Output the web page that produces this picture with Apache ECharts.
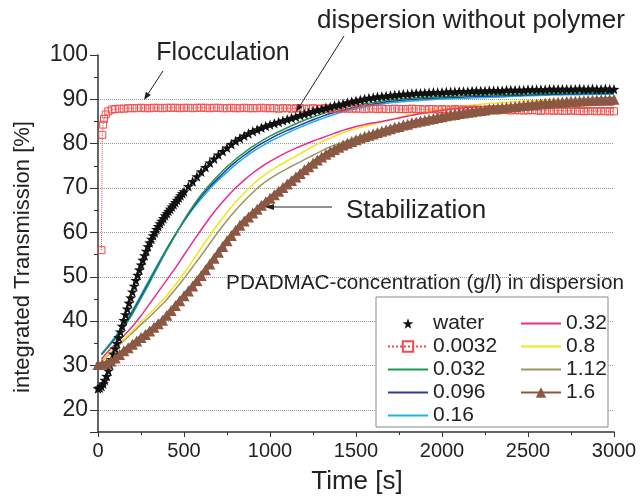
<!DOCTYPE html>
<html><head><meta charset="utf-8">
<script src="https://cdn.jsdelivr.net/npm/echarts@6/dist/echarts.min.js"></script>
<style>html,body{margin:0;padding:0;background:#fff}#c{width:640px;height:498px}</style>
</head><body><div id="c"></div><script>
// ---------- data ----------
const seriesNames = ['water', '0.0032', '0.032', '0.096', '0.16', '0.32', '0.8', '1.12', '1.6'];
const xTicks = [0, 500, 1000, 1500, 2000, 2500, 3000];
const yTicks = [20, 30, 40, 50, 60, 70, 80, 90, 100];

// time grid (s) for the marker series
const t25 = [0,25,50,75,100,125,150,175,200,225,250,275,300,325,350,375,400,425,450,475,
500,525,550,575,600,625,650,675,700,725,750,775,800,825,850,875,900,925,950,975,
1000,1025,1050,1075,1100,1125,1150,1175,1200,1225,1250,1275,1300,1325,1350,1375,1400,1425,1450,1475,
1500,1525,1550,1575,1600,1625,1650,1675,1700,1725,1750,1775,1800,1825,1850,1875,1900,1925,1950,1975,
2000,2025,2050,2075,2100,2125,2150,2175,2200,2225,2250,2275,2300,2325,2350,2375,2400,2425,2450,2475,
2500,2525,2550,2575,2600,2625,2650,2675,2700,2725,2750,2775,2800,2825,2850,2875,2900,2925,2950,2975,3000];
// denser early time grid (s) for the water stars
const tWaterEarly = [0,10,20,30,40,50,60,70,80,90,100,110,120,130,140,150,160,170,180,190,
200,210,220,230,240,250,260,270,280,290,300,310,320,330,340,350,360,370,380,390,
400,410,420,430,440,450,460,470,480,490,500];
// time grid (s) for the plain line series
const t50 = [20,50,100,150,200,250,300,350,400,450,500,550,600,650,700,750,800,850,900,950,
1000,1050,1100,1150,1200,1250,1300,1350,1400,1450,1500,1550,1600,1650,1700,1750,1800,1850,1900,1950,
2000,2050,2100,2150,2200,2250,2300,2350,2400,2450,2500,2550,2600,2650,2700,2750,2800,2850,2900,2950,3000];

// water: 0..500 s on tWaterEarly, then 525..3000 s on t25
const waterEarlyV = [24.8,25.0,25.3,25.9,26.7,27.6,28.8,30.1,31.4,32.6,33.8,35.0,36.3,37.6,38.9,40.2,41.5,42.8,44.1,45.3,
46.6,47.9,49.2,50.4,51.6,52.7,53.8,54.8,55.8,56.8,57.7,58.5,59.3,60.0,60.7,61.4,62.0,62.6,63.2,63.8,
64.3,64.8,65.3,65.8,66.3,66.8,67.3,67.8,68.3,68.8,69.2];
const waterV = [70.4,71.5,72.6,73.7,74.7,75.7,76.6,77.5,78.3,79.1,79.9,80.6,81.2,81.8,82.3,82.8,83.2,83.6,84.0,
84.3,84.6,84.9,85.2,85.5,85.8,86.1,86.4,86.7,87.0,87.3,87.6,87.8,88.1,88.3,88.6,88.8,89.0,89.3,89.5,
89.7,89.9,90.1,90.3,90.4,90.6,90.7,90.8,90.9,91.0,91.1,91.2,91.2,91.3,91.4,91.4,91.5,91.5,91.6,91.6,
91.6,91.7,91.7,91.7,91.8,91.8,91.8,91.9,91.9,91.9,91.9,92.0,92.0,92.0,92.0,92.1,92.1,92.1,92.1,92.1,
92.2,92.2,92.2,92.2,92.2,92.3,92.3,92.3,92.3,92.3,92.3,92.3,92.4,92.3,92.3,92.4,92.3,92.3,92.4,92.3,92.3];

// 0.0032: first points (jump), then values on t25 from 100 s on
const flocEarlyT = [20, 25, 30, 35, 45, 60, 80];
const flocEarlyV = [56.0, 82.0, 84.3, 85.6, 86.6, 87.3, 87.7];
const flocV = [87.8,87.9,87.9,88.0,88.0,88.0,88.1,88.0,88.0,88.1,88.1,88.0,88.1,88.1,88.1,88.0,
88.1,88.1,88.0,88.1,88.1,88.1,88.0,88.1,88.1,88.0,88.0,88.1,88.0,88.0,88.1,88.0,88.0,88.0,88.1,88.0,
88.0,88.0,87.9,88.0,88.0,87.9,88.0,88.0,87.9,87.9,88.0,87.9,87.9,88.0,87.9,87.9,87.9,88.0,87.9,87.9,
87.9,87.9,87.8,87.9,87.9,87.8,87.9,87.8,87.8,87.9,87.8,87.8,87.8,87.9,87.8,87.8,87.7,87.8,87.8,87.7,
87.8,87.7,87.7,87.8,87.7,87.7,87.6,87.7,87.7,87.6,87.6,87.7,87.6,87.5,87.6,87.6,87.5,87.6,87.5,87.5,
87.5,87.6,87.5,87.4,87.5,87.5,87.4,87.5,87.4,87.4,87.5,87.4,87.4,87.3,87.4,87.4,87.3,87.4,87.3,87.3,87.3];

const brownV = [30.2,30.3,30.5,31.0,31.7,32.5,33.3,34.0,34.8,35.5,36.3,37.0,37.8,38.6,39.4,40.2,41.3,42.4,43.5,44.6,
45.7,46.8,47.9,49.1,50.3,51.6,52.9,54.2,55.5,56.8,58.1,59.3,60.5,61.6,62.6,63.5,64.4,65.2,66.1,66.9,
67.7,68.5,69.3,70.1,70.9,71.7,72.5,73.3,74.1,74.8,75.6,76.3,77.0,77.6,78.2,78.7,79.2,79.7,80.1,80.5,
80.9,81.3,81.6,81.9,82.2,82.5,82.8,83.1,83.4,83.7,83.9,84.2,84.4,84.7,84.9,85.1,85.3,85.5,85.7,85.9,
86.1,86.3,86.5,86.6,86.8,86.9,87.1,87.2,87.4,87.5,87.6,87.8,87.9,88.0,88.1,88.2,88.3,88.4,88.5,88.6,
88.7,88.8,88.9,89.0,89.1,89.2,89.3,89.35,89.4,89.5,89.55,89.6,89.65,89.7,89.75,89.8,89.85,89.9,89.9,89.95,90.0];

const greenV = [32.4,33.7,36.0,38.6,41.6,45.1,48.7,52.4,56.0,59.4,62.8,65.8,68.5,70.8,72.9,74.8,76.5,78.0,79.4,80.6,
81.7,82.7,83.6,84.5,85.3,86.0,86.7,87.3,87.8,88.3,88.7,89.0,89.3,89.6,89.9,90.05,90.2,90.35,90.45,90.55,
90.6,90.7,90.75,90.85,90.9,90.95,91.0,91.05,91.1,91.15,91.2,91.25,91.3,91.35,91.4,91.4,91.45,91.5,91.5,91.55,91.6];
const navyV = [32.5,33.8,36.2,38.9,42.0,45.5,49.1,52.7,56.2,59.5,62.6,65.5,68.1,70.3,72.3,74.2,75.9,77.4,78.8,80.0,
81.1,82.1,83.0,83.8,84.6,85.4,86.1,86.8,87.3,87.8,88.3,88.65,88.95,89.25,89.55,89.75,89.9,90.05,90.15,90.25,
90.35,90.45,90.5,90.6,90.65,90.7,90.75,90.8,90.85,90.95,91.0,91.05,91.1,91.15,91.2,91.2,91.25,91.3,91.3,91.35,91.4];
const cyanV = [32.6,34.0,36.5,39.3,42.4,45.9,49.5,53.0,56.4,59.6,62.5,65.2,67.6,69.8,71.8,73.6,75.3,76.8,78.2,79.4,
80.5,81.5,82.4,83.3,84.1,84.9,85.6,86.3,86.9,87.5,87.9,88.3,88.6,88.95,89.25,89.4,89.55,89.7,89.85,89.95,
90.05,90.15,90.2,90.25,90.35,90.4,90.45,90.55,90.65,90.7,90.8,90.85,90.9,91.0,91.0,91.05,91.05,91.1,91.15,91.15,91.2];
const pinkV = [31.4,32.8,34.8,36.7,38.8,41.2,43.9,46.6,49.3,52.0,54.9,57.8,60.6,63.3,65.8,68.0,70.0,71.8,73.4,74.8,
76.0,77.1,78.1,79.0,79.8,80.6,81.3,82.0,82.7,83.3,83.9,84.3,84.7,85.0,85.4,85.8,86.2,86.6,86.9,87.2,
87.5,87.8,88.0,88.15,88.3,88.4,88.5,88.55,88.6,88.6,88.65,88.65,88.7,88.7,88.7,88.7,88.7,88.7,88.7,88.75,88.75];
const yellowV = [31.0,32.2,34.0,35.9,37.8,39.8,41.7,43.7,45.8,48.2,50.8,53.6,56.5,59.3,62.0,64.5,66.8,68.9,70.8,72.4,
73.8,75.0,76.1,77.2,78.3,79.4,80.4,81.3,82.1,82.8,83.4,83.9,84.4,84.9,85.4,85.9,86.4,86.8,87.2,87.5,
87.8,88.1,88.35,88.6,88.8,89.0,89.15,89.3,89.4,89.5,89.6,89.7,89.75,89.8,89.85,89.9,89.95,90.0,90.0,90.05,90.1];
const oliveV = [30.9,32.0,33.8,35.6,37.4,39.2,41.0,42.9,44.9,47.2,49.6,52.2,54.8,57.5,60.2,62.7,65.0,67.1,69.0,70.7,
72.1,73.3,74.4,75.4,76.4,77.4,78.4,79.3,80.0,80.7,81.4,82.0,82.6,83.1,83.7,84.2,84.7,85.2,85.6,86.0,
86.4,86.7,87.0,87.2,87.4,87.5,87.6,87.7,87.8,87.85,87.9,87.9,87.95,87.95,88.0,88.0,88.0,88.0,88.05,88.05,88.1];

// ---------- chart ----------
const FONT = '"Liberation Sans", Arial, sans-serif';
const TXT = '#222';
const pairs = (ts, vs) => vs.map((v, i) => [ts[i], v]);
const STAR = 'path://M0,-10L2.35,-3.24L9.51,-3.09L3.8,1.24L5.88,8.09L0,4.2L-5.88,8.09L-3.8,1.24L-9.51,-3.09L-2.35,-3.24Z';

function lineSeries(name, data, color) {
  return { name, type: 'line', data, symbol: 'none', smooth: 0.3,
    lineStyle: { color, width: 1.5 }, itemStyle: { color }, silent: true };
}

const series = [
  { name: seriesNames[1], type: 'line',
    data: pairs(flocEarlyT, flocEarlyV).concat(pairs(t25.slice(4), flocV)),
    symbol: 'rect', symbolSize: 7, showAllSymbol: true,
    lineStyle: { color: '#f04a4a', width: 1, type: 'dotted' },
    itemStyle: { color: 'rgba(255,255,255,0)', borderColor: '#f04a4a', borderWidth: 1 }, silent: true },
  { name: seriesNames[0], type: 'line',
    data: pairs(tWaterEarly, waterEarlyV).concat(pairs(t25.slice(21), waterV)),
    symbol: STAR, symbolSize: 11, symbolKeepAspect: true, showAllSymbol: true,
    lineStyle: { width: 0, opacity: 0 }, itemStyle: { color: '#111' }, silent: true },
  { name: seriesNames[8], type: 'line', data: pairs(t25, brownV),
    symbol: 'triangle', symbolSize: 11, showAllSymbol: true,
    lineStyle: { color: '#8b5843', width: 5 }, itemStyle: { color: '#8b5843' }, silent: true },
  lineSeries(seriesNames[7], pairs(t50, oliveV), '#9c9567'),
  lineSeries(seriesNames[6], pairs(t50, yellowV), '#f2e619'),
  lineSeries(seriesNames[5], pairs(t50, pinkV), '#ec2a8e'),
  lineSeries(seriesNames[4], pairs(t50, cyanV), '#1cb3ec'),
  lineSeries(seriesNames[3], pairs(t50, navyV), '#2b3a92'),
  lineSeries(seriesNames[2], pairs(t50, greenV), '#1f9a55')
];

function arrow(x1, y1, x2, y2, len, half) {
  const a = Math.atan2(y2 - y1, x2 - x1);
  const bx = x2 - len * Math.cos(a), by = y2 - len * Math.sin(a);
  const px = -Math.sin(a) * half, py = Math.cos(a) * half;
  return [
    { type: 'line', shape: { x1, y1, x2: bx, y2: by }, style: { stroke: '#222', lineWidth: 1 }, z: 10, silent: true },
    { type: 'polygon', shape: { points: [[x2, y2], [bx + px, by + py], [bx - px, by - py]] }, style: { fill: '#222' }, z: 10, silent: true }
  ];
}
function label(text, x, y, size, rot) {
  return { type: 'text', x, y, rotation: rot || 0, z: 10, silent: true,
    style: { text, fontSize: size, fontFamily: FONT, fill: TXT, align: 'center', verticalAlign: 'middle' } };
}

const markerSeries = ['water', '0.0032', '1.6'];
const legendItem = n => (markerSeries.indexOf(n) >= 0 ? { name: n } : { name: n, itemStyle: { opacity: 0 } });
const legendCommon = {
  orient: 'vertical', itemWidth: 40, itemHeight: 13, itemGap: 0, padding: 0,
  selectedMode: false, z: 5,
  textStyle: { fontSize: 21, lineHeight: 23, color: TXT, fontFamily: FONT }
};

const option = {
  animation: false,
  backgroundColor: '#fff',
  textStyle: { fontFamily: FONT },
  grid: { left: 98, right: 26, top: 55, bottom: 66, containLabel: false, outerBoundsMode: 'none' },
  xAxis: {
    type: 'value', min: xTicks[0], max: xTicks[xTicks.length - 1], interval: xTicks[1] - xTicks[0],
    axisLine: { show: true, lineStyle: { color: '#333', width: 1.5 } },
    axisTick: { show: true, length: 5, lineStyle: { color: '#333', width: 1 } },
    minorTick: { show: true, splitNumber: 2, length: 3, lineStyle: { color: '#333', width: 1 } },
    axisLabel: { fontSize: 20, color: TXT, margin: 9, fontFamily: FONT, formatter: v => String(v) },
    splitLine: { show: false }
  },
  yAxis: [
    { type: 'value', min: 15, max: yTicks[yTicks.length - 1], interval: 5, position: 'left',
      axisLine: { show: true, lineStyle: { color: '#333', width: 1.5 } },
      axisTick: { show: true, length: 4, lineStyle: { color: '#333', width: 1 } },
      axisLabel: { fontSize: 23, color: TXT, margin: 10, fontFamily: FONT,
        formatter: v => (yTicks.indexOf(v) >= 0 ? String(v) : '') },
      splitLine: { show: false } },
    { type: 'value', min: 15, max: yTicks[yTicks.length - 1], minInterval: 10, maxInterval: 10,
      position: 'left', offset: 0,
      axisLine: { show: false }, axisLabel: { show: false },
      axisTick: { show: true, length: 8, lineStyle: { color: '#333', width: 1 } },
      splitLine: { show: true, showMinLine: false, showMaxLine: false,
        lineStyle: { type: 'dotted', color: '#9a9a9a', width: 1 } } }
  ],
  legend: [
    Object.assign({ data: seriesNames.slice(0, 5).map(legendItem), left: 387, top: 312 }, legendCommon),
    Object.assign({ data: seriesNames.slice(5).map(legendItem), left: 520, top: 312 }, legendCommon)
  ],
  series,
  graphic: [
    { type: 'rect', shape: { x: 376, y: 297, width: 232, height: 130 },
      style: { fill: '#fff', stroke: '#8a8a8a', lineWidth: 1 }, z: 3, silent: true },
    label('dispersion without polymer', 471, 21, 26),
    label('Flocculation', 223, 53, 25),
    label('Stabilization', 416, 211, 26),
    label('PDADMAC-concentration (g/l) in dispersion', 425, 283, 20.7),
    label('Time [s]', 357, 482, 26),
    label('integrated Transmission [%]', 23, 257, 22, Math.PI / 2),
    ...arrow(163, 71, 144, 100, 8, 3),
    ...arrow(344, 36, 296, 112, 8, 3),
    ...arrow(332, 207, 265, 207, 9, 3)
  ]
};

const chart = echarts.init(document.getElementById('c'), null, { renderer: 'canvas' });
chart.setOption(option);
</script></body></html>
